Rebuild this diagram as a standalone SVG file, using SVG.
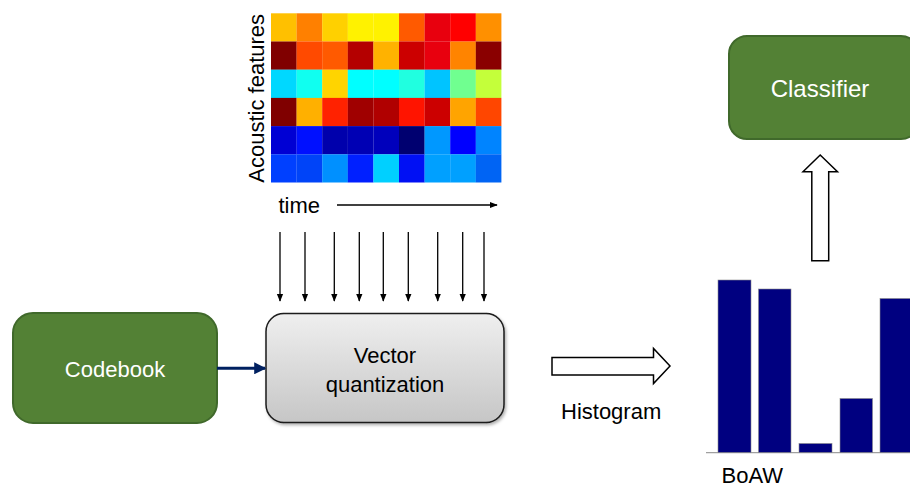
<svg xmlns="http://www.w3.org/2000/svg" width="910" height="486" viewBox="0 0 910 486">
<defs>
<style>
text{font-family:"Liberation Sans",Arial,sans-serif;font-size:22px;fill:#000}
.wt{fill:#fff}
.green{fill:#538135;stroke:#40692B;stroke-width:2}
.vl{stroke:#000;stroke-width:1.3;fill:none;marker-end:url(#ah)}
.hollow{fill:#fff;stroke:#000;stroke-width:1.5;stroke-linejoin:miter}
.bar{fill:#000080;stroke:#8a8a8a;stroke-width:0.6}
</style>
<marker id="ah" viewBox="0 0 10 10" refX="9" refY="5" markerWidth="8" markerHeight="8" markerUnits="userSpaceOnUse" orient="auto"><path d="M0,1 L10,5 L0,9 Z" fill="#000"/></marker>
<marker id="ahn" viewBox="0 0 10 10" refX="9" refY="5" markerWidth="4" markerHeight="4" orient="auto"><path d="M0,0 L10,5 L0,10 Z" fill="#002060"/></marker>
<linearGradient id="gg" x1="0" y1="0" x2="0" y2="1"><stop offset="0" stop-color="#EFEFEF"/><stop offset="1" stop-color="#C6C6C6"/></linearGradient>
<filter id="sh" x="-10%" y="-10%" width="130%" height="130%"><feDropShadow dx="1.5" dy="2" stdDeviation="1.5" flood-color="#000" flood-opacity="0.3"/></filter>
</defs>
<rect width="910" height="486" fill="#fff"/>

<g id="heatmap">
<g transform="translate(271,13.3)">
<rect x="0" y="0" width="25.7" height="28.3" fill="#FFC000"/><rect x="25.6" y="0" width="25.7" height="28.3" fill="#FF8000"/><rect x="51.2" y="0" width="25.7" height="28.3" fill="#FFD000"/><rect x="76.8" y="0" width="25.7" height="28.3" fill="#FFF200"/><rect x="102.4" y="0" width="25.7" height="28.3" fill="#FFF200"/><rect x="128" y="0" width="25.7" height="28.3" fill="#FF5A00"/><rect x="153.6" y="0" width="25.7" height="28.3" fill="#E8000E"/><rect x="179.2" y="0" width="25.7" height="28.3" fill="#FF0000"/><rect x="204.8" y="0" width="25.6" height="28.3" fill="#FF9000"/>
<rect x="0" y="28.2" width="25.7" height="28.3" fill="#800000"/><rect x="25.6" y="28.2" width="25.7" height="28.3" fill="#FF4A00"/><rect x="51.2" y="28.2" width="25.7" height="28.3" fill="#FF5A00"/><rect x="76.8" y="28.2" width="25.7" height="28.3" fill="#B40000"/><rect x="102.4" y="28.2" width="25.7" height="28.3" fill="#FFB200"/><rect x="128" y="28.2" width="25.7" height="28.3" fill="#CC0000"/><rect x="153.6" y="28.2" width="25.7" height="28.3" fill="#E8000E"/><rect x="179.2" y="28.2" width="25.7" height="28.3" fill="#FF8400"/><rect x="204.8" y="28.2" width="25.6" height="28.3" fill="#8A0000"/>
<rect x="0" y="56.4" width="25.7" height="28.3" fill="#00D8FF"/><rect x="25.6" y="56.4" width="25.7" height="28.3" fill="#10FFF0"/><rect x="51.2" y="56.4" width="25.7" height="28.3" fill="#FFD400"/><rect x="76.8" y="56.4" width="25.7" height="28.3" fill="#00FFFF"/><rect x="102.4" y="56.4" width="25.7" height="28.3" fill="#00FFFF"/><rect x="128" y="56.4" width="25.7" height="28.3" fill="#20FFE0"/><rect x="153.6" y="56.4" width="25.7" height="28.3" fill="#00C4FF"/><rect x="179.2" y="56.4" width="25.7" height="28.3" fill="#70FF90"/><rect x="204.8" y="56.4" width="25.6" height="28.3" fill="#C4FF3A"/>
<rect x="0" y="84.6" width="25.7" height="28.3" fill="#800000"/><rect x="25.6" y="84.6" width="25.7" height="28.3" fill="#FFB000"/><rect x="51.2" y="84.6" width="25.7" height="28.3" fill="#FF2200"/><rect x="76.8" y="84.6" width="25.7" height="28.3" fill="#A00000"/><rect x="102.4" y="84.6" width="25.7" height="28.3" fill="#B00000"/><rect x="128" y="84.6" width="25.7" height="28.3" fill="#FF1400"/><rect x="153.6" y="84.6" width="25.7" height="28.3" fill="#CC0000"/><rect x="179.2" y="84.6" width="25.7" height="28.3" fill="#FFA400"/><rect x="204.8" y="84.6" width="25.6" height="28.3" fill="#FF4600"/>
<rect x="0" y="112.8" width="25.7" height="28.3" fill="#0000D4"/><rect x="25.6" y="112.8" width="25.7" height="28.3" fill="#0010FF"/><rect x="51.2" y="112.8" width="25.7" height="28.3" fill="#0000AC"/><rect x="76.8" y="112.8" width="25.7" height="28.3" fill="#0000B4"/><rect x="102.4" y="112.8" width="25.7" height="28.3" fill="#0000BC"/><rect x="128" y="112.8" width="25.7" height="28.3" fill="#000070"/><rect x="153.6" y="112.8" width="25.7" height="28.3" fill="#0098FF"/><rect x="179.2" y="112.8" width="25.7" height="28.3" fill="#0000FF"/><rect x="204.8" y="112.8" width="25.6" height="28.3" fill="#0084FF"/>
<rect x="0" y="141" width="25.7" height="28.2" fill="#0040FF"/><rect x="25.6" y="141" width="25.7" height="28.2" fill="#0044F8"/><rect x="51.2" y="141" width="25.7" height="28.2" fill="#0090FF"/><rect x="76.8" y="141" width="25.7" height="28.2" fill="#0020FF"/><rect x="102.4" y="141" width="25.7" height="28.2" fill="#00D0FF"/><rect x="128" y="141" width="25.7" height="28.2" fill="#0010F4"/><rect x="153.6" y="141" width="25.7" height="28.2" fill="#00A0FF"/><rect x="179.2" y="141" width="25.7" height="28.2" fill="#00A0FF"/><rect x="204.8" y="141" width="25.6" height="28.2" fill="#0064F4"/>
</g>
<text transform="translate(263.5,98.3) rotate(-90)" text-anchor="middle">Acoustic features</text>
<text x="278.5" y="213">time</text>
</g>

<g id="codebook">
<rect class="green" x="13" y="313" width="204" height="110" rx="20"/>
<text class="wt" x="115" y="377" text-anchor="middle">Codebook</text>
</g>

<g id="vector-quantization">
<rect x="266" y="313.5" width="238" height="109" rx="18" fill="url(#gg)" stroke="#1a1a1a" stroke-width="1.5" filter="url(#sh)"/>
<text x="385" y="362.5" text-anchor="middle">Vector</text>
<text x="385" y="391.5" text-anchor="middle">quantization</text>
</g>

<g id="classifier">
<rect class="green" x="729" y="36" width="190" height="103" rx="18"/>
<text class="wt" x="820" y="97" text-anchor="middle" style="font-size:24px">Classifier</text>
</g>

<g id="boaw">
<line x1="706" y1="452.7" x2="910" y2="452.7" stroke="#a0a0a0" stroke-width="1.2"/>
<rect class="bar" x="718" y="280" width="33" height="172.5"/>
<rect class="bar" x="758.5" y="289" width="32.5" height="163.5"/>
<rect class="bar" x="799" y="443.5" width="33" height="9"/>
<rect class="bar" x="840" y="398.5" width="32.5" height="54"/>
<rect class="bar" x="880" y="298.5" width="32" height="154"/>
<text x="721.5" y="482.5">BoAW</text>
</g>

<g id="connectors">
<line x1="337" y1="205" x2="497" y2="205" stroke="#000" stroke-width="1.3" marker-end="url(#ah)"/>
<line class="vl" x1="280" y1="232" x2="280" y2="301"/>
<line class="vl" x1="305" y1="232" x2="305" y2="301"/>
<line class="vl" x1="334.3" y1="232" x2="334.3" y2="301"/>
<line class="vl" x1="359.3" y1="232" x2="359.3" y2="301"/>
<line class="vl" x1="383.3" y1="232" x2="383.3" y2="301"/>
<line class="vl" x1="408.3" y1="232" x2="408.3" y2="301"/>
<line class="vl" x1="437.7" y1="232" x2="437.7" y2="301"/>
<line class="vl" x1="462.7" y1="232" x2="462.7" y2="301"/>
<line class="vl" x1="484" y1="232" x2="484" y2="301"/>
<line x1="217" y1="368.3" x2="265" y2="368.3" stroke="#002060" stroke-width="3" marker-end="url(#ahn)"/>
<path class="hollow" d="M552,357.5 L653.5,357.5 L653.5,348.5 L670,366 L653.5,383.5 L653.5,375 L552,375 Z"/>
<text x="561" y="419">Histogram</text>
<path class="hollow" d="M811.8,260.7 L811.8,171.7 L803,171.7 L820.2,155 L837.5,171.7 L828.7,171.7 L828.7,260.7 Z"/>
</g>
</svg>
